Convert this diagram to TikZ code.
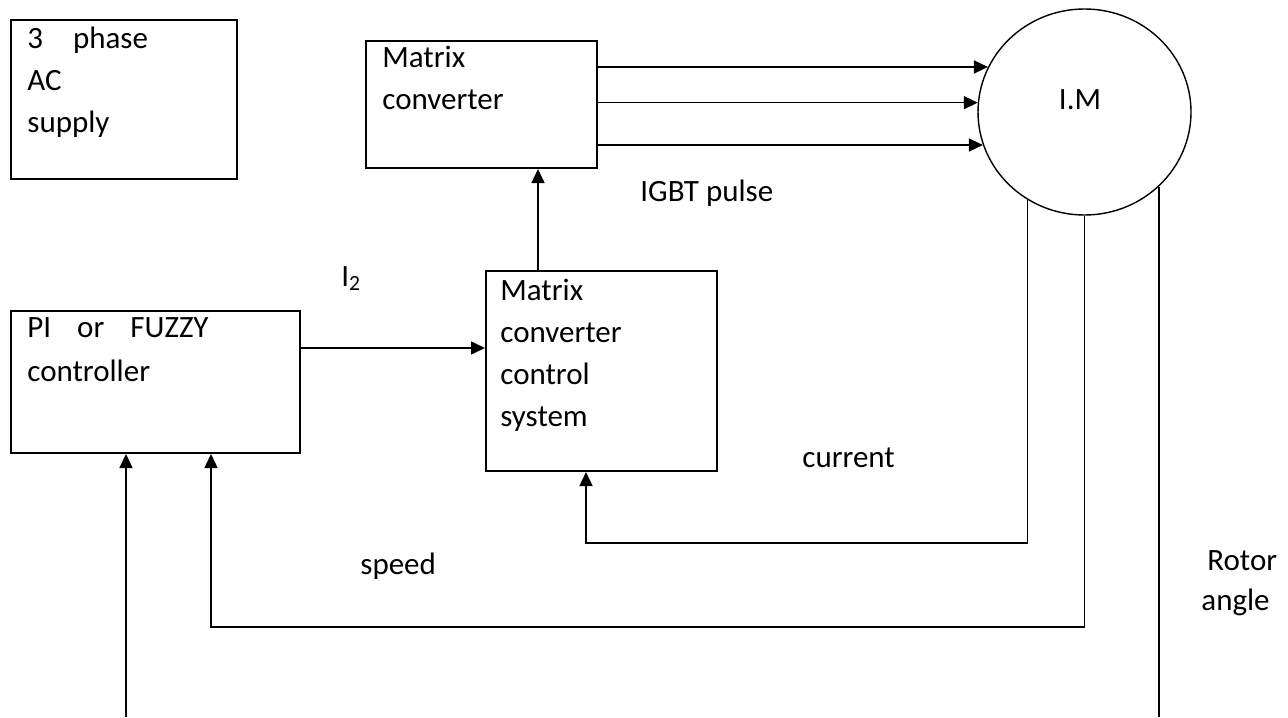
\documentclass[tikz,border=0pt]{standalone}
\usepackage{fontspec}
\setmainfont{Carlito}
\usetikzlibrary{arrows.meta,shapes.geometric}
\begin{document}
\begin{tikzpicture}[x=0.5pt,y=-0.5pt,
  box/.style={draw,line width=1pt,anchor=north west,inner sep=0pt},
  txt/.style={anchor=base west,align=left,inner sep=0pt,font=\fontsize{15.5}{21}\selectfont},
  lbl/.style={anchor=base west,inner sep=0pt,font=\fontsize{15.5}{21}\selectfont},
  arr/.style={line width=0.75pt,-{Triangle[length=7pt,width=6.5pt]}},
  wire/.style={line width=0.75pt}]
\useasboundingbox (0,0) rectangle (1288,717);
% boxes (text nodes are anchored at the baseline of their last line)
\node[box,minimum width=113pt,minimum height=79.5pt] (sup) at (10,19) {};
\node[txt] (supt) at (27,133) {3\hspace{15pt}phase\\AC\\supply};
\node[box,minimum width=115.5pt,minimum height=63.5pt] (mc) at (365,40) {};
\node[txt] (mct) at (382,110) {Matrix\\converter};
\node[box,minimum width=115.5pt,minimum height=100pt] (mccs) at (485,270) {};
\node[txt] (mccst) at (500,426) {Matrix\\converter\\control\\system};
\node[box,minimum width=144.5pt,minimum height=71pt] (pi) at (10,310) {};
\node[txt] (pit) at (27,381) {PI\hspace{13pt}or\hspace{13pt}FUZZY\\[1pt]controller};
% motor
\node[draw,ellipse,minimum width=106.5pt,minimum height=103pt,inner sep=0pt,line width=0.7pt] (im) at (1084.5,112) {};
\node[anchor=base,inner sep=0pt,font=\fontsize{15.5}{21}\selectfont] (imt) at (1080,110) {I.M};
% labels
\node[lbl] (i2) at (341,286) {I\textsubscript{2}};
\node[lbl] (igbt) at (640,201) {IGBT pulse};
\node[lbl] (cur) at (802,467) {current};
\node[lbl] (spd) at (360,574) {speed};
\node[lbl] (rot) at (1207,570) {Rotor};
\node[lbl] (ang) at (1201,610) {angle};
% helper coordinates
\coordinate (c1) at (538,0);
\coordinate (c2) at (586,543);
\coordinate (c3) at (211,627);
\coordinate (c4) at (126,717);
\coordinate (bot) at (0,717);
\coordinate (r1) at (0,348);
% connectors
\draw[arr] (pi.east |- r1) -- (mccs.west |- r1);
\draw[arr] (mccs.north -| c1) -- (mc.south -| c1);
\foreach \a in {155,175,198} \draw[arr] (mc.east |- im.\a) -- (im.\a);
\draw[arr] (im.237) |- (c2) -- (mccs.south -| c2);
\draw[arr] (im.south) |- (c3) -- (pi.south -| c3);
\draw[wire] (im.315) -- (im.315 |- bot);
\draw[arr] (c4) -- (pi.south -| c4);
\end{tikzpicture}
\end{document}
